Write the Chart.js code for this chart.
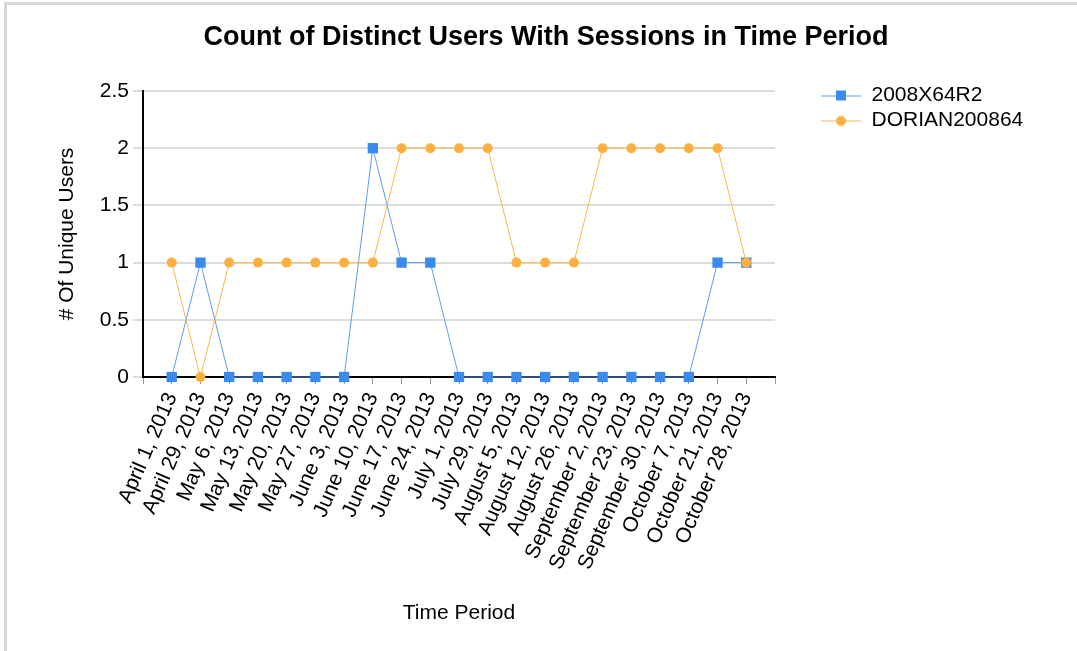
<!DOCTYPE html>
<html><head><meta charset="utf-8">
<script src="https://cdn.jsdelivr.net/npm/chart.js@4.4.1/dist/chart.umd.min.js"></script>
<style>
html,body{margin:0;padding:0;background:#fff;}
#wrap{position:relative;width:1077px;height:651px;overflow:hidden;}
#frame{position:absolute;left:4px;top:2px;width:1100px;height:700px;border-top:3px solid #d8d8d8;border-left:3px solid #d8d8d8;pointer-events:none;}
canvas{position:absolute;left:0;top:0;}
</style></head><body>
<div id="wrap"><canvas id="c" width="1077" height="651"></canvas><div id="frame"></div></div>
<script>
const categories = ["April 1, 2013","April 29, 2013","May 6, 2013","May 13, 2013","May 20, 2013","May 27, 2013","June 3, 2013","June 10, 2013","June 17, 2013","June 24, 2013","July 1, 2013","July 29, 2013","August 5, 2013","August 12, 2013","August 26, 2013","September 2, 2013","September 23, 2013","September 30, 2013","October 7, 2013","October 21, 2013","October 28, 2013"];
const seriesNames = ["2008X64R2","DORIAN200864"];
const values2008X64R2 = [0,1,0,0,0,0,0,2,1,1,0,0,0,0,0,0,0,0,0,1,1];
const valuesDORIAN200864 = [1,0,1,1,1,1,1,1,2,2,2,2,1,1,1,2,2,2,2,2,1];
const yMin = 0, yMax = 2.5, yStep = 0.5;

const FONT = "'Liberation Sans', Arial, sans-serif";
const BLUE = '#3b8aee', BLUE_LINE = '#5d9df0';
const ORANGE = '#fbb040', ORANGE_LINE = '#f9b84f';

function legendGlyph(lineColor, fill, square) {
  const c = document.createElement('canvas');
  c.width = 40; c.height = 12;
  const g = c.getContext('2d');
  g.strokeStyle = lineColor; g.lineWidth = 1;
  g.beginPath(); g.moveTo(0, 6.5); g.lineTo(40, 6.5); g.stroke();
  g.fillStyle = fill;
  if (square) { g.fillRect(15, 1, 10, 10); }
  else { g.beginPath(); g.arc(20, 6.5, 5, 0, Math.PI * 2); g.fill(); }
  return c;
}
const glyphs = [legendGlyph(BLUE_LINE, BLUE, true), legendGlyph(ORANGE_LINE, ORANGE, false)];

const legendPlacer = {
  id: 'legendPlacer',
  beforeLayout(chart) {
    const lg = chart.legend;
    if (lg && !lg._patched) {
      const fit = lg.fit.bind(lg);
      lg.fit = function () { fit(); this.width = 302; };
      lg._patched = true;
    }
  },
  afterLayout(chart) {
    const lg = chart.legend;
    lg.left = 817;
    lg.top = 81;
  }
};

const toPts = arr => arr.map((v, i) => ({x: i, y: v}));

new Chart(document.getElementById('c'), {
  type: 'line',
  data: {
    datasets: [
      {label: seriesNames[0], data: toPts(values2008X64R2), borderColor: BLUE_LINE, backgroundColor: BLUE,
       borderWidth: 1, pointStyle: 'rect', pointRadius: 7.3, pointBackgroundColor: BLUE, pointBorderColor: BLUE,
       pointBorderWidth: 0, order: 1, clip: false, tension: 0},
      {label: seriesNames[1], data: toPts(valuesDORIAN200864), borderColor: ORANGE_LINE, backgroundColor: ORANGE,
       borderWidth: 1, pointStyle: 'circle', pointRadius: 5, pointBackgroundColor: ORANGE, pointBorderColor: ORANGE,
       pointBorderWidth: 0, order: 0, clip: false, tension: 0}
    ]
  },
  options: {
    responsive: false,
    animation: false,
    devicePixelRatio: 1,
    events: [],
    layout: {padding: {left: 15, right: 0, top: 0, bottom: 0}},
    plugins: {
      title: {display: true, text: 'Count of Distinct Users With Sessions in Time Period',
        color: '#000', font: {family: FONT, size: 27, weight: 'bold'}, padding: {top: 21, bottom: 37.6}},
      legend: {display: true, position: 'right', align: 'start',
        labels: {usePointStyle: true, pointStyleWidth: 40, padding: 4, color: '#000',
          font: {family: FONT, size: 21},
          sort: (a, b) => a.datasetIndex - b.datasetIndex,
          generateLabels: (chart) => chart.data.datasets.map((d, i) => ({
            text: d.label, datasetIndex: i, pointStyle: glyphs[i], fillStyle: d.backgroundColor,
            strokeStyle: d.borderColor, lineWidth: 0, hidden: false, fontColor: '#000'}))
        }},
      tooltip: {enabled: false}
    },
    scales: {
      x: {
        type: 'linear', min: -1, max: categories.length,
        afterFit: s => { s.height = 274; },
        grid: {drawOnChartArea: false, drawTicks: true, tickLength: 7, color: '#999', lineWidth: 1},
        border: {display: true, color: '#000', width: 2},
        ticks: {stepSize: 1, autoSkip: false, minRotation: 66.5, maxRotation: 66.5, padding: 5, color: '#000',
          font: {family: FONT, size: 21},
          callback: v => (Number.isInteger(v) && v >= 0 && v < categories.length) ? categories[v] : ''},
        title: {display: true, text: 'Time Period', color: '#000', font: {family: FONT, size: 21},
          padding: {top: 0, bottom: 25.4}}
      },
      y: {
        type: 'linear', min: yMin, max: yMax,
        afterFit: s => { s.width = 128; },
        grid: {color: '#dcdcdc', lineWidth: 2, drawTicks: true, tickLength: 10, tickColor: '#bbb', tickWidth: 1},
        border: {display: true, color: '#000', width: 2},
        ticks: {stepSize: yStep, padding: 4, color: '#000', font: {family: FONT, size: 21},
          callback: v => String(v)},
        title: {display: true, text: '# Of Unique Users', color: '#000', font: {family: FONT, size: 21},
          padding: {top: 39.4, bottom: 0}}
      }
    }
  },
  plugins: [legendPlacer]
});
</script>
</body></html>
